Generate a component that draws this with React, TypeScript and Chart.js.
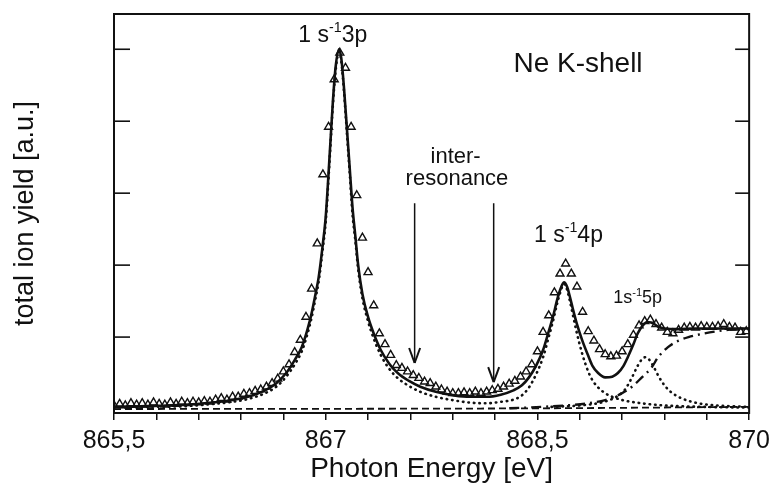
import React, { useEffect, useRef } from 'react';
import { Chart, registerables } from 'chart.js';

Chart.register(...registerables);

const FONT = "'Liberation Sans', Arial, Helvetica, sans-serif";
const INK = '#111111';

// ---- axes ----
const X_MIN = 865.5;
const X_MAX = 870;
const X_TICKS = [865.5, 865.8, 866.1, 866.4, 866.7, 867.0, 867.3, 867.6, 867.9, 868.2, 868.5, 868.8, 869.1, 869.4, 869.7, 870.0];
const X_MAJOR = [865.5, 867, 868.5, 870];
const X_LABELS = ['865,5', '867', '868,5', '870'];
const Y_MIN = -0.055;
const Y_MAX = 5.49;
const Y_TICKS = [1, 2, 3, 4, 5];

// ---- measured total ion yield (triangles) ----
const DATA_E = [
  865.50, 865.54, 865.58, 865.62, 865.66, 865.70, 865.74, 865.78, 865.82, 865.86,
  865.90, 865.94, 865.98, 866.02, 866.06, 866.10, 866.14, 866.18, 866.22, 866.26,
  866.30, 866.34, 866.38, 866.42, 866.46, 866.50, 866.54, 866.58, 866.62, 866.66,
  866.70, 866.74, 866.78, 866.82, 866.86, 866.90, 866.94, 866.98, 867.02, 867.06,
  867.10, 867.14, 867.18, 867.22, 867.26, 867.30, 867.34, 867.38, 867.42, 867.46,
  867.50, 867.54, 867.58, 867.62, 867.66, 867.70, 867.74, 867.78, 867.82, 867.86,
  867.90, 867.94, 867.98, 868.02, 868.06, 868.10, 868.14, 868.18, 868.22, 868.26,
  868.30, 868.34, 868.38, 868.42, 868.46, 868.50, 868.54, 868.58, 868.62, 868.66,
  868.70, 868.74, 868.78, 868.82, 868.86, 868.90, 868.94, 868.98, 869.02, 869.06,
  869.10, 869.14, 869.18, 869.22, 869.26, 869.30, 869.34, 869.38, 869.42, 869.46,
  869.50, 869.54, 869.58, 869.62, 869.66, 869.70, 869.74, 869.78, 869.82, 869.86,
  869.90, 869.94, 869.98,
];
const DATA_V = [
  0.05, 0.07, 0.05, 0.08, 0.06, 0.08, 0.06, 0.09, 0.07, 0.06,
  0.09, 0.07, 0.10, 0.08, 0.10, 0.09, 0.11, 0.10, 0.13, 0.15,
  0.13, 0.17, 0.17, 0.21, 0.22, 0.25, 0.27, 0.31, 0.36, 0.42,
  0.52, 0.62, 0.79, 0.96, 1.28, 1.67, 2.30, 3.26, 3.92, 4.58,
  4.95, 4.74, 3.92, 2.97, 2.38, 1.90, 1.44, 1.05, 0.90, 0.75,
  0.61, 0.57, 0.52, 0.47, 0.43, 0.38, 0.36, 0.31, 0.27, 0.24,
  0.22, 0.22, 0.23, 0.22, 0.24, 0.22, 0.24, 0.26, 0.28, 0.31,
  0.35, 0.39, 0.45, 0.52, 0.62, 0.80, 1.07, 1.30, 1.62, 1.88,
  2.02, 1.88, 1.70, 1.35, 1.08, 0.95, 0.83, 0.76, 0.73, 0.74,
  0.80, 0.90, 1.03, 1.16, 1.22, 1.24, 1.18, 1.13, 1.07, 1.05,
  1.10, 1.13, 1.14, 1.13, 1.15, 1.14, 1.14, 1.15, 1.18, 1.14,
  1.13, 1.07, 1.08,
];

// ---- total fit (solid) ----
const FIT_E = [
  865.5, 865.75, 866.0, 866.2, 866.34, 866.45, 866.57, 866.65, 866.72, 866.78,
  866.83, 866.87, 866.9, 866.93, 866.95, 866.98, 867.0, 867.03, 867.05, 867.07,
  867.094, 867.11, 867.13, 867.15, 867.17, 867.19, 867.21, 867.23, 867.26, 867.3,
  867.34, 867.39, 867.45, 867.51, 867.59, 867.67, 867.78, 867.91, 868.02, 868.14,
  868.24, 868.33, 868.39, 868.44, 868.49, 868.54, 868.58, 868.61, 868.64, 868.66,
  868.688, 868.71, 868.73, 868.75, 868.78, 868.82, 868.86, 868.89, 868.93, 868.98,
  869.03, 869.07, 869.11, 869.14, 869.18, 869.21, 869.25, 869.28, 869.32, 869.36,
  869.4, 869.5, 869.6, 869.8, 870.0,
];
const FIT_V = [
  0.03, 0.04, 0.06, 0.09, 0.125, 0.17, 0.26, 0.36, 0.5, 0.68,
  0.86, 1.1, 1.33, 1.62, 1.83, 2.3, 2.67, 3.6, 4.25, 4.75,
  5.0, 4.88, 4.45, 3.9, 3.35, 2.8, 2.4, 2.0, 1.6, 1.28,
  1.05, 0.82, 0.63, 0.5, 0.39, 0.31, 0.24, 0.19, 0.17, 0.17,
  0.2, 0.26, 0.33, 0.44, 0.6, 0.82, 1.08, 1.28, 1.52, 1.65,
  1.76, 1.7, 1.56, 1.4, 1.18, 0.94, 0.74, 0.6, 0.5, 0.44,
  0.45, 0.5, 0.6, 0.72, 0.9, 1.05, 1.17, 1.21, 1.19, 1.14,
  1.12, 1.11, 1.12, 1.12, 1.12,
];

// ---- 1s-13p + 1s-14p components (dotted) ----
const P34_E = [
  865.5, 865.75, 866.0, 866.2, 866.34, 866.45, 866.57, 866.65, 866.72, 866.78,
  866.83, 866.87, 866.9, 866.93, 866.95, 866.98, 867.0, 867.03, 867.05, 867.07,
  867.094, 867.11, 867.13, 867.15, 867.17, 867.19, 867.21, 867.23, 867.26, 867.3,
  867.34, 867.39, 867.45, 867.51, 867.59, 867.67, 867.78, 867.91, 868.02, 868.14,
  868.24, 868.33, 868.39, 868.44, 868.49, 868.54, 868.58, 868.61, 868.64, 868.66,
  868.688, 868.71, 868.73, 868.75, 868.78, 868.82, 868.86, 868.89, 868.93, 868.98,
  869.03, 869.1, 869.2, 869.33, 869.5, 869.68, 870.0,
];
const P34_V = [
  0.02, 0.03, 0.04, 0.07, 0.1, 0.14, 0.22, 0.31, 0.45, 0.62,
  0.8, 1.04, 1.27, 1.56, 1.77, 2.24, 2.6, 3.54, 4.2, 4.7,
  4.96, 4.84, 4.4, 3.84, 3.28, 2.7, 2.34, 1.94, 1.54, 1.22,
  0.98, 0.75, 0.56, 0.43, 0.32, 0.24, 0.17, 0.12, 0.09, 0.08,
  0.1, 0.13, 0.19, 0.3, 0.48, 0.72, 1.0, 1.22, 1.47, 1.61,
  1.74, 1.66, 1.5, 1.32, 1.05, 0.75, 0.52, 0.4, 0.3, 0.22,
  0.17, 0.125, 0.09, 0.06, 0.04, 0.03, 0.02,
];

// ---- 1s-15p component (dotted) ----
const P5_E = [868.6, 868.8, 868.95, 869.05, 869.12, 869.17, 869.21, 869.24, 869.265, 869.29, 869.32, 869.36, 869.4, 869.45, 869.52, 869.64, 869.81, 870.0];
const P5_V = [0.03, 0.05, 0.09, 0.16, 0.27, 0.44, 0.6, 0.69, 0.72, 0.69, 0.6, 0.45, 0.33, 0.23, 0.15, 0.08, 0.045, 0.03];

// ---- ionisation step (dash-dot) ----
const STEP_E = [868.3, 868.53, 868.7, 868.86, 868.98, 869.07, 869.17, 869.24, 869.31, 869.355, 869.425, 869.5, 869.57, 869.68, 869.85, 870.0];
const STEP_V = [0.01, 0.03, 0.05, 0.08, 0.125, 0.19, 0.31, 0.44, 0.58, 0.72, 0.86, 0.95, 1.0, 1.05, 1.1, 1.12];

// ---- background (dashed) ----
const BASE_E = [865.5, 868.5, 870.0];
const BASE_V = [0.0, 0.01, 0.03];

// ---- annotations ----
const ARROW_E = [867.63, 868.19];
const ARROW_TOP = [2.86, 2.86];
const ARROW_TIP = [0.64, 0.375];

const pts = (xs: number[], ys: number[]) => xs.map((x, i) => ({ x, y: ys[i] }));

type Part = [string, boolean];

function drawParts(ctx: CanvasRenderingContext2D, parts: Part[], cx: number, base: number, size: number) {
  const widths = parts.map(([t, sup]) => {
    ctx.font = `${sup ? size * 0.62 : size}px ${FONT}`;
    return ctx.measureText(t).width;
  });
  const total = widths.reduce((a, b) => a + b, 0);
  let x = cx - total / 2;
  ctx.textAlign = 'left';
  ctx.textBaseline = 'alphabetic';
  parts.forEach(([t, sup], i) => {
    ctx.font = `${sup ? size * 0.62 : size}px ${FONT}`;
    ctx.fillText(t, x, sup ? base - size * 0.42 : base);
    x += widths[i];
  });
}

const framePlugin = {
  id: 'frame',
  afterDraw(chart: any) {
    const { ctx, chartArea: a, scales } = chart;
    const xs = scales.x;
    const ys = scales.y;
    const line = (x1: number, y1: number, x2: number, y2: number) => {
      ctx.beginPath();
      ctx.moveTo(x1, y1);
      ctx.lineTo(x2, y2);
      ctx.stroke();
    };
    ctx.save();
    ctx.strokeStyle = INK;
    ctx.fillStyle = INK;
    ctx.lineWidth = 2;
    ctx.strokeRect(a.left, a.top, a.right - a.left, a.bottom - a.top);
    ctx.lineWidth = 1.6;
    Y_TICKS.forEach((v) => {
      const py = ys.getPixelForValue(v);
      line(a.left, py, a.left + 16, py);
      line(a.right - 14, py, a.right, py);
    });

    // arrows
    ARROW_E.forEach((e, i) => {
      const px = xs.getPixelForValue(e);
      const top = ys.getPixelForValue(ARROW_TOP[i]);
      const tip = ys.getPixelForValue(ARROW_TIP[i]);
      ctx.lineWidth = 1.5;
      line(px, top, px, tip);
      ctx.lineWidth = 2;
      line(px, tip, px - 5.5, tip - 15);
      line(px, tip, px + 5.5, tip - 15);
    });

    // labels
    drawParts(ctx, [['1 s', false], ['-1', true], ['3p', false]], xs.getPixelForValue(867.05), ys.getPixelForValue(5.1), 23);
    drawParts(ctx, [['1 s', false], ['-1', true], ['4p', false]], xs.getPixelForValue(868.72), ys.getPixelForValue(2.32), 23);
    drawParts(ctx, [['1s', false], ['-1', true], ['5p', false]], xs.getPixelForValue(869.21), ys.getPixelForValue(1.47), 18);

    ctx.font = `28px ${FONT}`;
    ctx.textAlign = 'left';
    ctx.textBaseline = 'alphabetic';
    ctx.fillText('Ne K-shell', xs.getPixelForValue(868.33), ys.getPixelForValue(4.68));

    ctx.font = `22px ${FONT}`;
    ctx.textAlign = 'center';
    ctx.fillText('inter-', xs.getPixelForValue(867.92), ys.getPixelForValue(3.42));
    ctx.fillText('resonance', xs.getPixelForValue(867.93), ys.getPixelForValue(3.11));
    ctx.restore();
  },
};

export default function App() {
  const ref = useRef<HTMLCanvasElement | null>(null);

  useEffect(() => {
    document.body.style.margin = '0';
    const canvas = ref.current;
    if (!canvas) return;

    const lineDs = (data: any, width: number, dash: number[], cap: CanvasLineCap = 'butt') => ({
      data,
      borderColor: INK,
      borderWidth: width,
      borderDash: dash,
      borderCapStyle: cap,
      pointRadius: 0,
      fill: false,
      cubicInterpolationMode: 'monotone' as const,
    });

    const chart = new Chart(canvas, {
      type: 'line',
      data: {
        datasets: [
          {
            data: pts(DATA_E, DATA_V),
            showLine: false,
            pointStyle: 'triangle',
            pointRadius: 4.6,
            pointBorderWidth: 1.4,
            pointBorderColor: INK,
            pointBackgroundColor: 'rgba(255,255,255,0)',
          } as any,
          lineDs(pts(FIT_E, FIT_V), 2.6, []),
          lineDs(pts(P34_E, P34_V), 2.6, [0.5, 5], 'round'),
          lineDs(pts(P5_E, P5_V), 2.6, [0.5, 5], 'round'),
          lineDs(pts(STEP_E, STEP_V), 2.4, [10, 5, 2, 5]),
          lineDs(pts(BASE_E, BASE_V), 1.8, [7, 4]),
        ],
      },
      options: {
        responsive: true,
        maintainAspectRatio: false,
        animation: false,
        layout: { padding: { top: 14, right: 21, left: 0, bottom: 0 } },
        plugins: { legend: { display: false }, tooltip: { enabled: false } },
        scales: {
          x: {
            type: 'linear',
            min: X_MIN,
            max: X_MAX,
            afterBuildTicks: (axis: any) => {
              axis.ticks = X_TICKS.map((v) => ({ value: v }));
            },
            afterFit: (s: any) => {
              s.height = 76;
            },
            ticks: {
              autoSkip: false,
              maxRotation: 0,
              padding: 6,
              color: INK,
              font: { family: FONT, size: 25 },
              callback: (value: any) => {
                const i = X_MAJOR.findIndex((m) => Math.abs(m - Number(value)) < 1e-6);
                return i >= 0 ? X_LABELS[i] : '';
              },
            },
            grid: { drawOnChartArea: false, drawTicks: true, tickLength: 7, color: INK, lineWidth: 1.5 },
            border: { display: false },
            title: {
              display: true,
              text: 'Photon Energy [eV]',
              color: INK,
              font: { family: FONT, size: 28 },
              padding: { top: 0, bottom: 3 },
            },
          },
          y: {
            type: 'linear',
            min: Y_MIN,
            max: Y_MAX,
            afterFit: (s: any) => {
              s.width = 114;
            },
            ticks: { display: false },
            grid: { display: false },
            border: { display: false },
            title: {
              display: true,
              text: 'total ion yield [a.u.]',
              color: INK,
              font: { family: FONT, size: 27 },
              padding: { top: 9, bottom: 0 },
            },
          },
        },
      },
      plugins: [framePlugin],
    });

    return () => chart.destroy();
  }, []);

  return (
    <div style={{ width: 776, height: 489, position: 'relative', background: '#fff' }}>
      <canvas ref={ref} />
    </div>
  );
}
